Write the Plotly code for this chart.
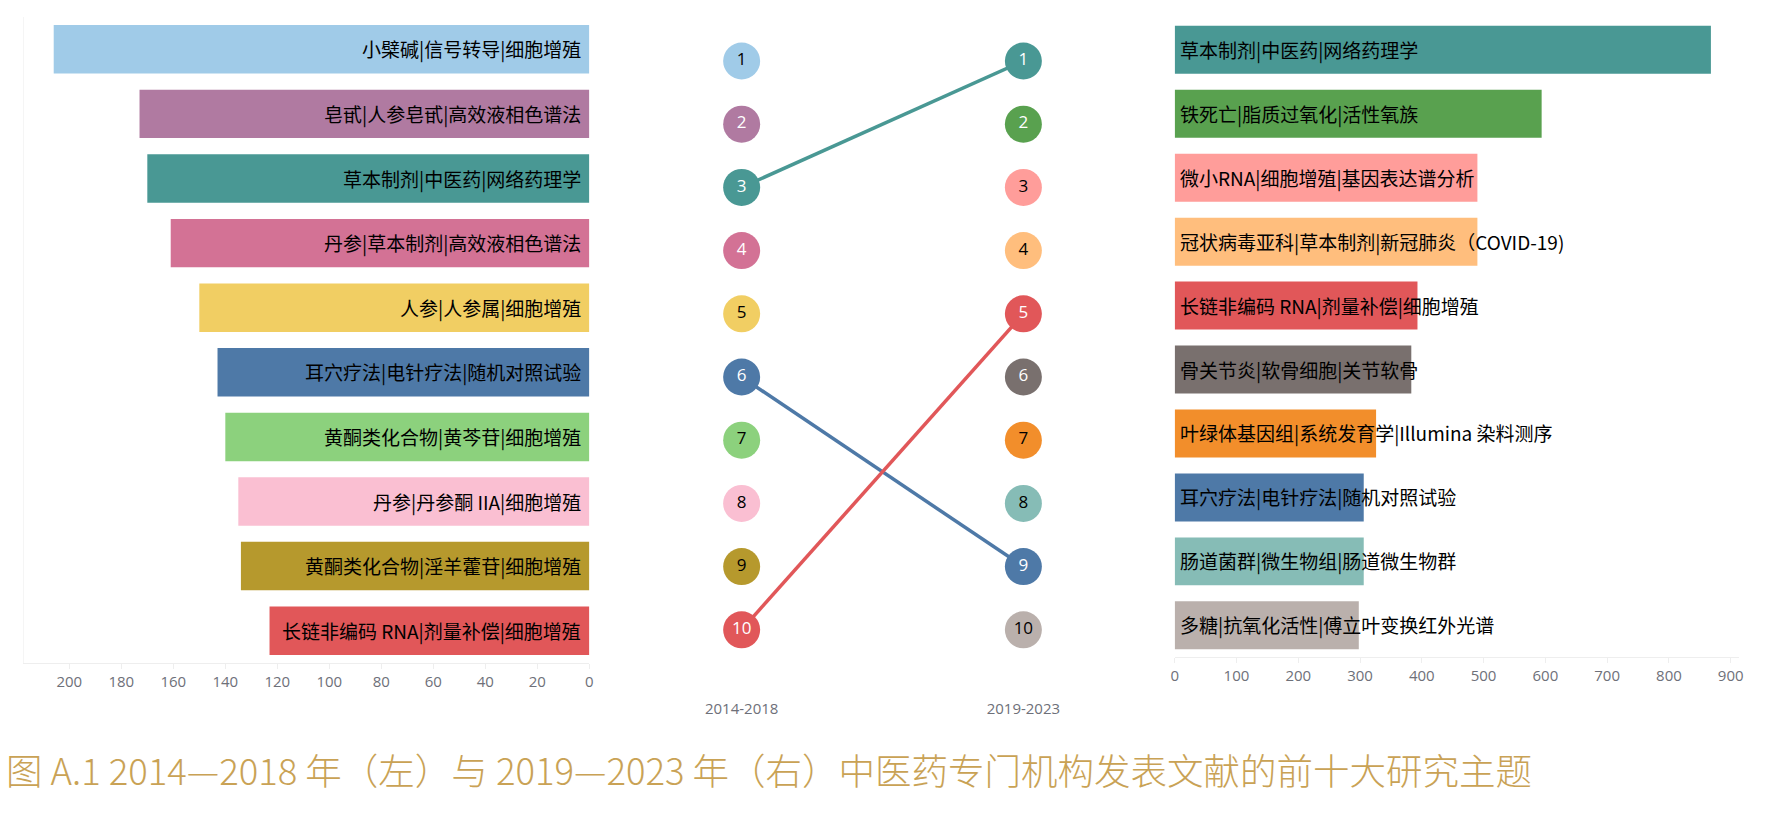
import plotly.graph_objects as go

W, H = 1773, 824

left_period = "2014-2018"
right_period = "2019-2023"

# 2014-2018 ranking (rank order)
left_topics = [
    "小檗碱|信号转导|细胞增殖",
    "皂甙|人参皂甙|高效液相色谱法",
    "草本制剂|中医药|网络药理学",
    "丹参|草本制剂|高效液相色谱法",
    "人参|人参属|细胞增殖",
    "耳穴疗法|电针疗法|随机对照试验",
    "黄酮类化合物|黄芩苷|细胞增殖",
    "丹参|丹参酮 IIA|细胞增殖",
    "黄酮类化合物|淫羊藿苷|细胞增殖",
    "长链非编码 RNA|剂量补偿|细胞增殖",
]
left_values = [206, 173, 170, 161, 150, 143, 140, 135, 134, 123]
left_colors = ["#A0CBE8", "#B07AA1", "#499894", "#D37295", "#F1CE63",
               "#4E79A7", "#8CD17D", "#FABFD2", "#B6992D", "#E15759"]
left_num_colors = ["#000000", "#ffffff", "#ffffff", "#ffffff", "#000000",
                   "#ffffff", "#000000", "#000000", "#000000", "#ffffff"]

# 2019-2023 ranking (rank order)
right_topics = [
    "草本制剂|中医药|网络药理学",
    "铁死亡|脂质过氧化|活性氧族",
    "微小RNA|细胞增殖|基因表达谱分析",
    "冠状病毒亚科|草本制剂|新冠肺炎（COVID-19)",
    "长链非编码 RNA|剂量补偿|细胞增殖",
    "骨关节炎|软骨细胞|关节软骨",
    "叶绿体基因组|系统发育学|Illumina 染料测序",
    "肠道菌群|微生物组|肠道微生物群",
    "耳穴疗法|电针疗法|随机对照试验",
    "多糖|抗氧化活性|傅立叶变换红外光谱",
]
right_values = [868, 594, 490, 490, 393, 383, 326, 306, 306, 298]
right_colors = ["#499894", "#59A14F", "#FF9D9A", "#FFBE7D", "#E15759",
                "#79706E", "#F28E2B", "#86BCB6", "#4E79A7", "#BAB0AC"]
right_num_colors = ["#ffffff", "#ffffff", "#000000", "#000000", "#ffffff",
                    "#ffffff", "#000000", "#000000", "#ffffff", "#000000"]
# order in which the right-hand bars are listed (ties at 306 swapped)
right_bar_order = [
    "草本制剂|中医药|网络药理学",
    "铁死亡|脂质过氧化|活性氧族",
    "微小RNA|细胞增殖|基因表达谱分析",
    "冠状病毒亚科|草本制剂|新冠肺炎（COVID-19)",
    "长链非编码 RNA|剂量补偿|细胞增殖",
    "骨关节炎|软骨细胞|关节软骨",
    "叶绿体基因组|系统发育学|Illumina 染料测序",
    "耳穴疗法|电针疗法|随机对照试验",
    "肠道菌群|微生物组|肠道微生物群",
    "多糖|抗氧化活性|傅立叶变换红外光谱",
]

left_ticks = [0, 20, 40, 60, 80, 100, 120, 140, 160, 180, 200]
right_ticks = [0, 100, 200, 300, 400, 500, 600, 700, 800, 900]

title_text = "图 A.1 2014—2018 年（左）与 2019—2023 年（右）中医药专门机构发表文献的前十大研究主题"

ranks = list(range(1, len(left_topics) + 1))

LABEL_FONT = "Noto Sans CJK SC, sans-serif"
TICK_FONT = "Open Sans, sans-serif"
TICK_COLOR = "#6E7079"

fig = go.Figure()

# left bars
fig.add_trace(go.Bar(
    x=left_values, y=left_topics, orientation="h", width=0.75,
    marker=dict(color=left_colors, line=dict(width=0)),
    xaxis="x", yaxis="y", hoverinfo="x+y",
))
# right bars (listed in display order)
rb_vals = [right_values[right_topics.index(t)] for t in right_bar_order]
rb_cols = [right_colors[right_topics.index(t)] for t in right_bar_order]
fig.add_trace(go.Bar(
    x=rb_vals, y=right_bar_order, orientation="h", width=0.75,
    marker=dict(color=rb_cols, line=dict(width=0)),
    xaxis="x2", yaxis="y2", hoverinfo="x+y",
))

# connecting lines in the middle
for li, topic in enumerate(left_topics):
    if topic in right_topics:
        ri = right_topics.index(topic)
        fig.add_trace(go.Scatter(
            x=[0, 1], y=[ranks[li], ranks[ri]], mode="lines",
            line=dict(color=left_colors[li], width=3.5),
            xaxis="x3", yaxis="y3", hoverinfo="skip",
        ))

# rank circles
fig.add_trace(go.Scatter(
    x=[0] * len(ranks), y=ranks, mode="markers+text",
    marker=dict(size=37, color=left_colors, line=dict(width=0)),
    text=[str(r) for r in ranks], textposition="middle center",
    textfont=dict(size=17, color=left_num_colors, family=TICK_FONT),
    xaxis="x3", yaxis="y3", hovertext=left_topics, hoverinfo="text",
))
fig.add_trace(go.Scatter(
    x=[1] * len(ranks), y=ranks, mode="markers+text",
    marker=dict(size=37, color=right_colors, line=dict(width=0)),
    text=[str(r) for r in ranks], textposition="middle center",
    textfont=dict(size=17, color=right_num_colors, family=TICK_FONT),
    xaxis="x3", yaxis="y3", hovertext=right_topics, hoverinfo="text",
))

annotations = []
for t in left_topics:
    annotations.append(dict(
        x=0, y=t, xref="x", yref="y", text=t, showarrow=False,
        xanchor="right", yanchor="middle", xshift=-6,
        font=dict(size=19, color="#000000", family=LABEL_FONT),
    ))
for t in right_bar_order:
    annotations.append(dict(
        x=0, y=t, xref="x2", yref="y2", text=t, showarrow=False,
        xanchor="left", yanchor="middle", xshift=3,
        font=dict(size=19, color="#000000", family=LABEL_FONT),
    ))
annotations.append(dict(
    x=0, y=1 - 769 / H, xref="paper", yref="paper", text=title_text,
    showarrow=False, xanchor="left", yanchor="middle",
    font=dict(size=36.5, color="#C9A255", family="Noto Sans CJK SC", weight=300),
))

axis_common = dict(
    showgrid=False, zeroline=False, showline=True, linecolor="#EEEEEE",
    ticks="outside", ticklen=5, tickcolor="#EEEEEE",
    tickfont=dict(size=15, color=TICK_COLOR, family=TICK_FONT),
    fixedrange=True,
)
cat_common = dict(
    type="category", showticklabels=False, showgrid=False, zeroline=False,
    ticks="", fixedrange=True, range=[9.5, -0.5],
)

fig.update_layout(
    width=W, height=H,
    margin=dict(l=0, r=0, t=0, b=0),
    paper_bgcolor="white", plot_bgcolor="white",
    showlegend=False,
    annotations=annotations,
    xaxis=dict(domain=[19.9 / W, 588 / W], range=[217.5, 0],
               tickvals=left_ticks, anchor="y", **axis_common),
    yaxis=dict(domain=[1 - 663 / H, 1 - 17 / H], categoryorder="array",
               categoryarray=left_topics, showline=True, linecolor="#F5F5F5",
               anchor="x", **cat_common),
    xaxis2=dict(domain=[1176 / W, 1743.2 / W], range=[0, 914],
                tickvals=right_ticks, anchor="y2", **axis_common),
    yaxis2=dict(domain=[1 - 657.3 / H, 1 - 17.85 / H], categoryorder="array",
                categoryarray=right_bar_order, showline=False,
                anchor="x2", **cat_common),
    xaxis3=dict(domain=[660 / W, 1105 / W], range=[-0.2862, 1.2862],
                tickvals=[0, 1], ticktext=[left_period, right_period],
                showgrid=False, zeroline=False, showline=False,
                ticks="outside", ticklen=34, tickcolor="rgba(0,0,0,0)",
                tickfont=dict(size=15, color=TICK_COLOR, family=TICK_FONT),
                anchor="y3", fixedrange=True),
    yaxis3=dict(domain=[1 - 661.4 / H, 1 - 29.4 / H], range=[10.5, 0.5],
                showticklabels=False, showgrid=False, zeroline=False,
                showline=False, ticks="", anchor="x3", fixedrange=True),
)

fig.write_html("out.html")
